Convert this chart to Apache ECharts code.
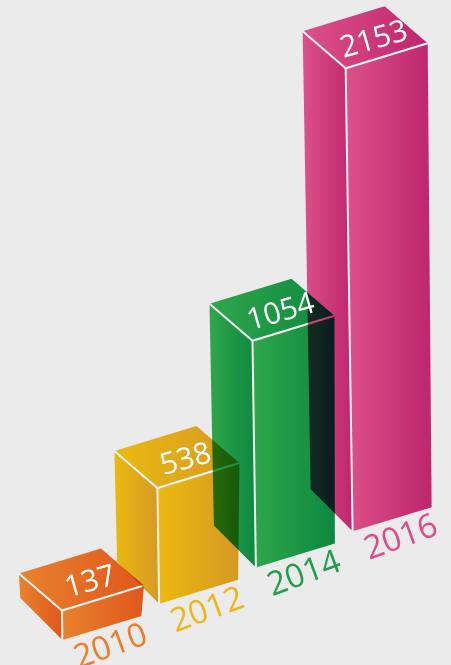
<!DOCTYPE html>
<html>
<head>
<meta charset="utf-8">
<style>
html,body{margin:0;padding:0;background:#ebebeb;}
#chart{width:451px;height:665px;}
</style>
<script src="https://cdn.jsdelivr.net/npm/echarts@6/dist/echarts.min.js"></script>
</head>
<body>
<div id="chart"></div>
<script>
// ---- data ----
const categories = ['2010', '2012', '2014', '2016'];
const values = [137, 538, 1054, 2153];

// ---- style ----
const lightColors = ['#EA822C', '#ECB90F', '#30A74B', '#DD5189'];
const darkColors  = ['#DF571D', '#D49A24', '#0D883F', '#BE266D'];
const yearColors  = ['#F27A28', '#EEB716', '#1F9F48', '#E04A8A'];

const TILT = 0.375;            // rise of the floor line per px to the right
const LEAN = 0.015;            // slight perspective lean of vertical edges
const botL = [-42, -42], botR = [79, -24];
const topL = [-43, -37], topR = [82, -25];

function grad(i) {
  return new echarts.graphic.LinearGradient(0, 0, 1, 0, [
    {offset: 0, color: lightColors[i]},
    {offset: 1, color: darkColors[i]}
  ]);
}
const add = (p, q) => [p[0] + q[0], p[1] + q[1]];

function geom(api) {
  const i = api.value(0);
  const v = api.value(1);
  const base = api.coord([i, 0]);
  const top = api.coord([i, v]);
  const x0 = api.coord([0, 0])[0];
  const h = base[1] - top[1];
  const BF = [base[0], base[1] - TILT * (base[0] - x0)];
  const BL = add(BF, botL), BR = add(BF, botR);
  const TF = [BF[0] - LEAN * h, BF[1] - h];
  const TL = add(TF, topL), TR = add(TF, topR);
  const TB = add(TL, topR);
  return {i, BF, BL, BR, TF, TL, TR, TB};
}

function renderFaces(params, api) {
  const g = geom(api);
  const face = (pts) => ({
    type: 'polygon', shape: {points: pts},
    style: {fill: grad(g.i)}, z2: 2 * g.i
  });
  return {type: 'group', children: [
    face([g.BL, g.BF, g.TF, g.TL]),
    face([g.BF, g.BR, g.TR, g.TF]),
    face([g.TL, g.TF, g.TR, g.TB])
  ]};
}

function renderEdges(params, api) {
  const g = geom(api);
  const st = {stroke: '#f3f3f3', lineWidth: 2, fill: null};
  return {type: 'group', children: [
    {type: 'polyline', shape: {points: [g.TL, g.TF, g.TR]}, style: st, z2: 2 * g.i + 1},
    {type: 'polyline', shape: {points: [g.TF, g.BF]}, style: st, z2: 2 * g.i + 1}
  ]};
}

function renderLabels(params, api) {
  const g = geom(api);
  const topC = [(g.TL[0] + g.TR[0]) / 2 + 9, (g.TL[1] + g.TR[1]) / 2 + 3];
  const yrC = [(g.BF[0] + g.BR[0]) / 2 + 9, (g.BF[1] + g.BR[1]) / 2 + 19];
  return {type: 'group', children: [
    {
      type: 'text', x: topC[0], y: topC[1], rotation: 16 * Math.PI / 180, z2: 100,
      style: {
        text: String(values[g.i]), fill: '#ffffff',
        font: '400 30px "Open Sans"', align: 'center', verticalAlign: 'middle'
      }
    },
    {
      type: 'text', x: yrC[0], y: yrC[1], rotation: 20 * Math.PI / 180, z2: 100,
      style: {
        text: categories[g.i], fill: yearColors[g.i],
        font: '400 33px "Open Sans"', align: 'center', verticalAlign: 'middle'
      }
    }
  ]};
}

const seriesData = values.map((v, i) => [i, v]);
const chart = echarts.init(document.getElementById('chart'), null, {renderer: 'canvas'});
chart.setOption({
  backgroundColor: 'transparent',
  animation: false,
  grid: {left: 14, right: 50, top: 102.5, bottom: 25},
  xAxis: {type: 'category', data: categories, show: false, boundaryGap: true},
  yAxis: {type: 'value', min: 0, max: 2500, show: false, splitLine: {show: false}},
  series: [
    {type: 'custom', clip: false, blendMode: 'multiply', renderItem: renderFaces,
     encode: {x: 0, y: 1}, data: seriesData},
    {type: 'custom', clip: false, renderItem: renderEdges,
     encode: {x: 0, y: 1}, data: seriesData},
    {type: 'custom', clip: false, renderItem: renderLabels,
     encode: {x: 0, y: 1}, data: seriesData}
  ]
});
</script>
</body>
</html>
